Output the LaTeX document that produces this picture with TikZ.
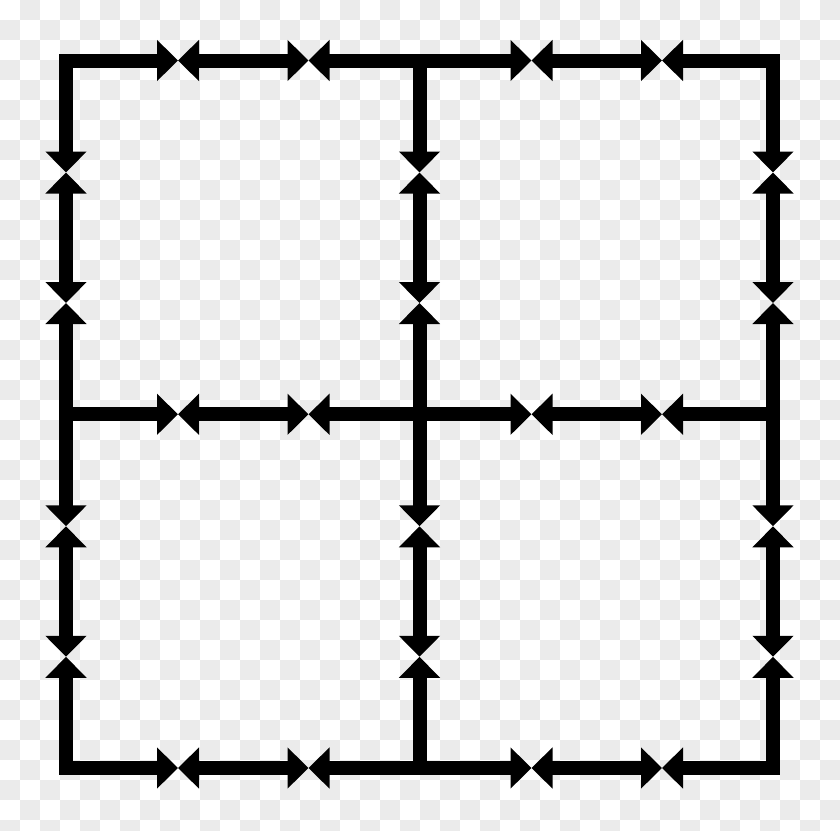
\documentclass[tikz,border=0pt]{standalone}
\usetikzlibrary{arrows.meta}
\definecolor{checkgray}{RGB}{235,235,235}
\begin{document}
\begin{tikzpicture}[x=1pt,y=-1pt,
  seg/.style={line width=14pt, line cap=rect, line join=miter},
  hd/.style={seg,-{Triangle[length=21pt,width=40pt]}},
  dbl/.style={seg,{Triangle[length=21pt,width=40pt]}-{Triangle[length=21pt,width=40pt]}}]
\useasboundingbox (0,0) rectangle (840,830);
\clip (0,0) rectangle (840,830);
% checkerboard background
\foreach \i in {0,...,41} {
  \foreach \j in {0,...,41} {
    \pgfmathtruncatemacro\p{mod(\i+\j,2)}
    \ifnum\p=1 \fill[checkgray] (\i*20,\j*20) rectangle ++(20,20);\fi
  }
}
% grid nodes
\foreach \c/\x in {0/66,1/419.5,2/773}
  \foreach \r/\y in {0/60.5,1/414.3,2/768}
    \coordinate (g\c\r) at (\x,\y);
% meeting points
\foreach \c in {0,1,2}
  \foreach \r in {0,1,2} {
    \coordinate (ha\c\r) at ([xshift=112pt]g\c\r);
    \coordinate (hb\c\r) at ([xshift=242.5pt]g\c\r);
    \coordinate (va\c\r) at ([yshift=-112pt]g\c\r);
    \coordinate (vb\c\r) at ([yshift=-242.5pt]g\c\r);
  }
% horizontal edges
\foreach \r in {0,1,2}
  \foreach \c/\n in {0/1,1/2} {
    \draw[hd] (g\c\r) -- (ha\c\r);
    \draw[dbl] (ha\c\r) -- (hb\c\r);
    \draw[hd] (g\n\r) -- (hb\c\r);
  }
% vertical edges
\foreach \c in {0,1,2}
  \foreach \r/\n in {0/1,1/2} {
    \draw[hd] (g\c\r) -- (va\c\r);
    \draw[dbl] (va\c\r) -- (vb\c\r);
    \draw[hd] (g\c\n) -- (vb\c\r);
  }
\end{tikzpicture}
\end{document}
